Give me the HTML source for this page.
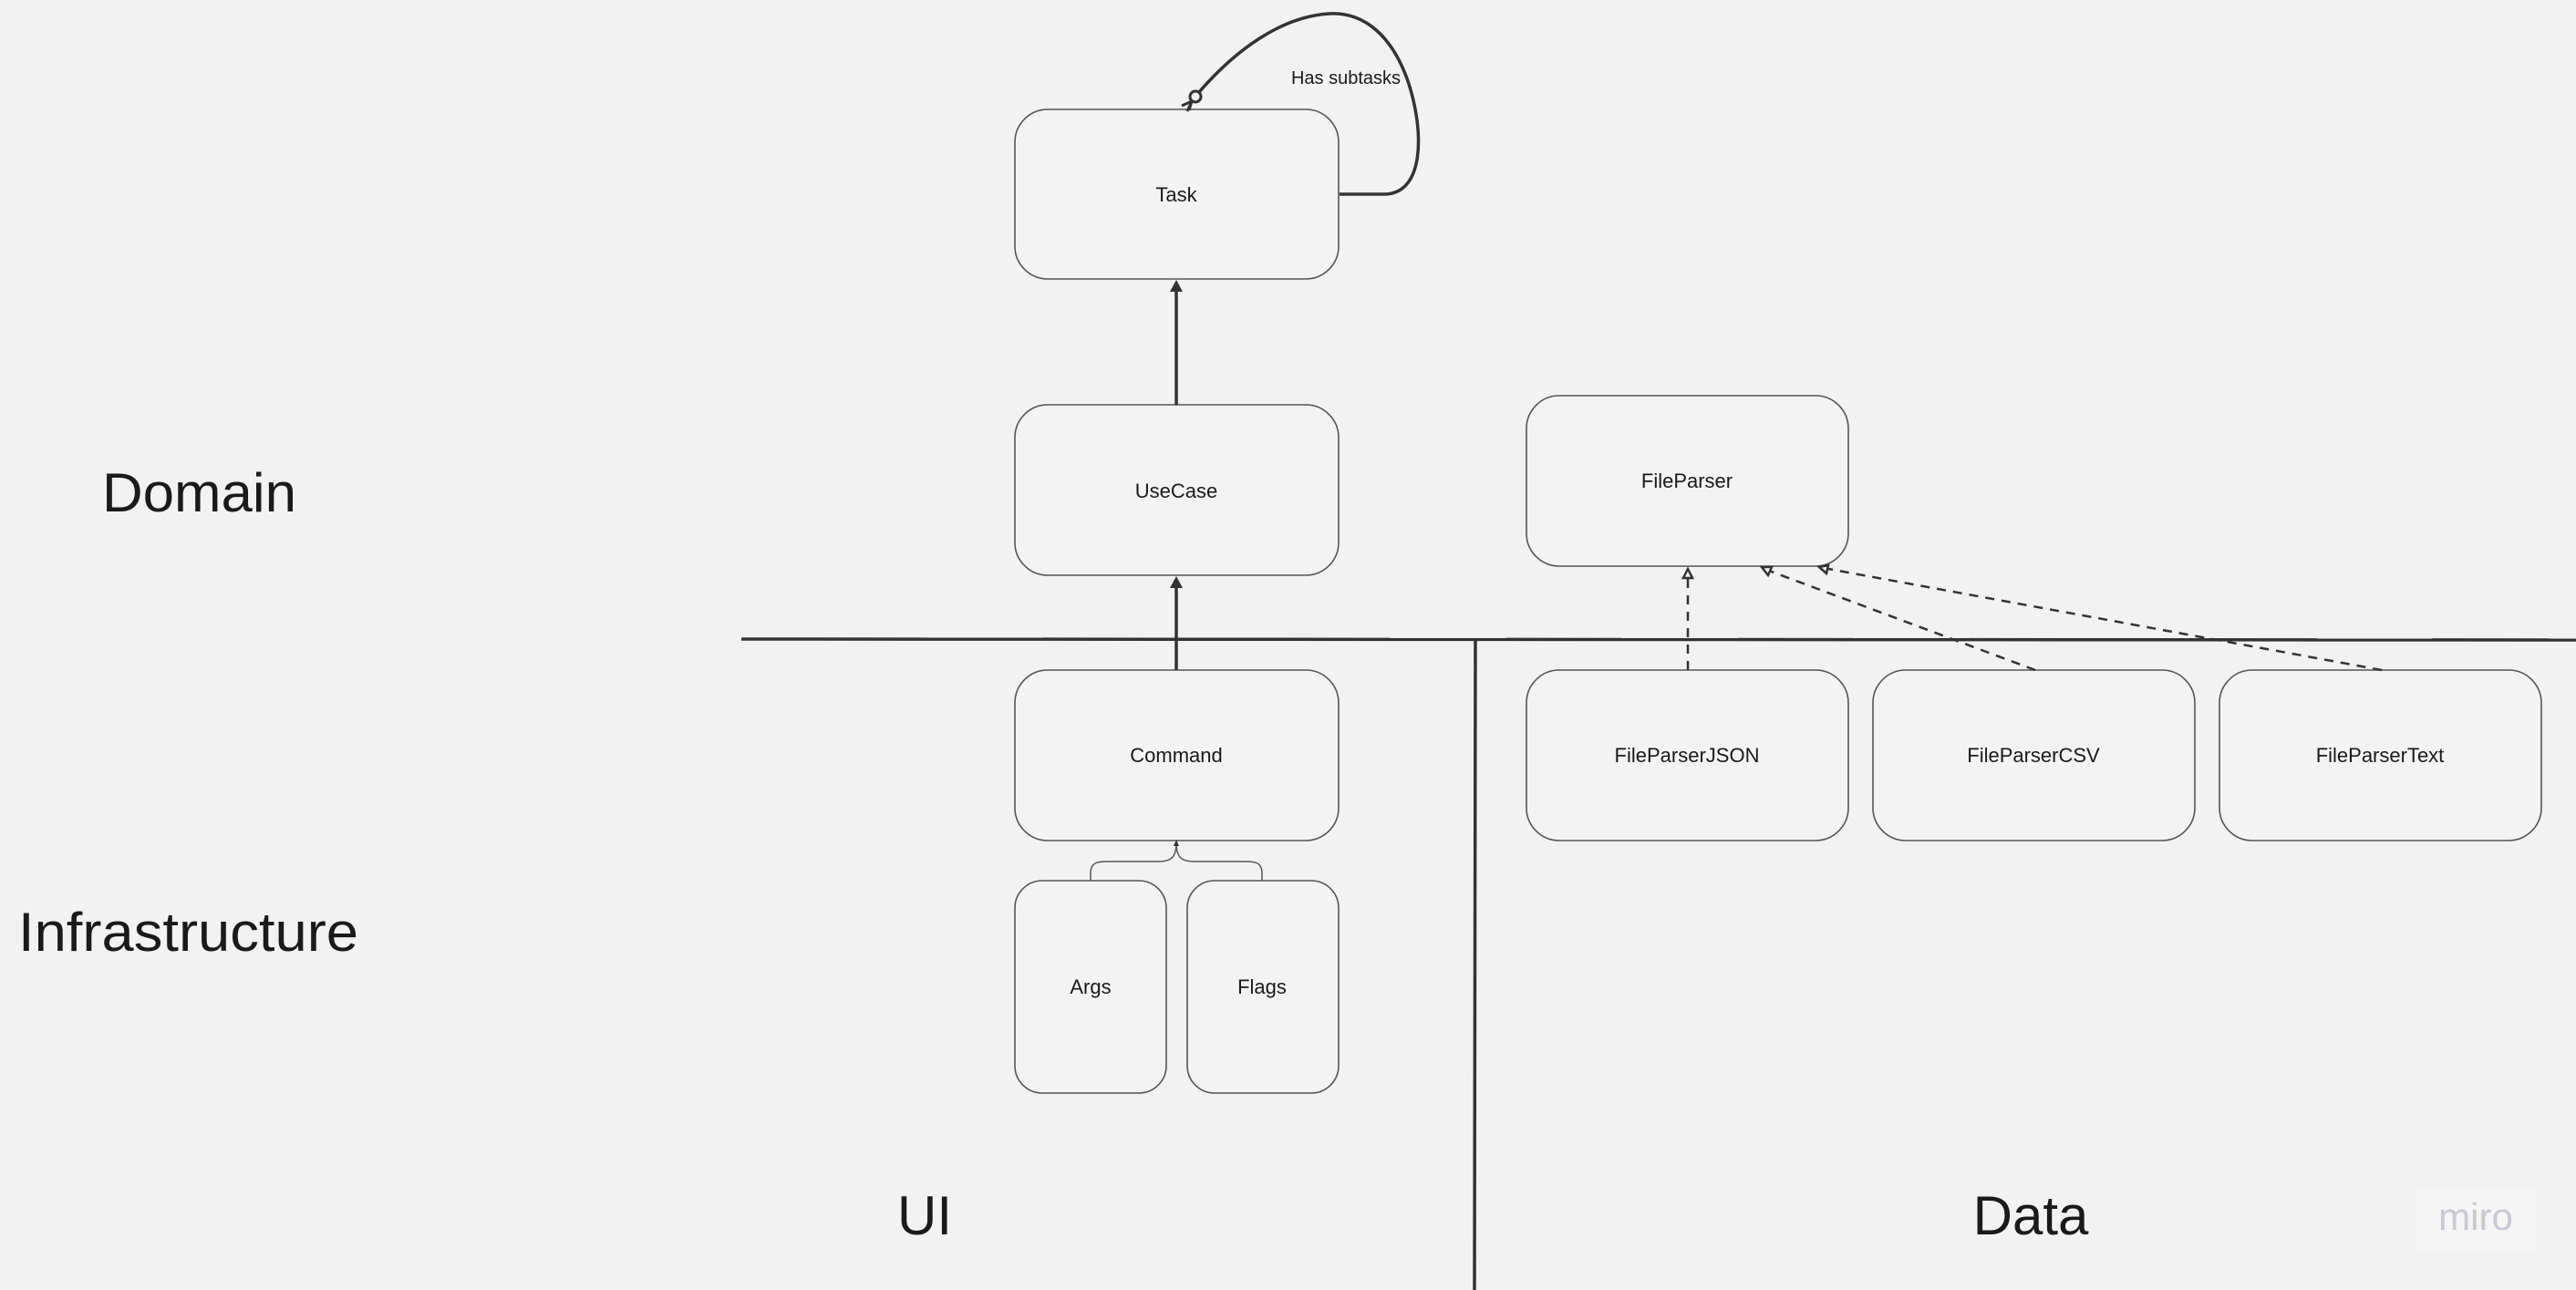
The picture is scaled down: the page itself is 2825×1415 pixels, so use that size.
<!DOCTYPE html>
<html><head><meta charset="utf-8"><style>
html,body{margin:0;padding:0;background:#f2f2f2}
svg{display:block}
text{font-family:"Liberation Sans",sans-serif;fill:#1a1a1a}
</style></head><body>
<svg width="2825" height="1415" viewBox="0 0 2825 1415" xmlns="http://www.w3.org/2000/svg">
<rect width="2825" height="1415" fill="#f2f2f2"/>
<g fill="#f3f3f3" stroke="#555" stroke-width="1.6">
<rect x="1113" y="120" width="355" height="186" rx="36"/>
<rect x="1113" y="444" width="355" height="187" rx="36"/>
<rect x="1113" y="735" width="355" height="187" rx="36"/>
<rect x="1113" y="966" width="166" height="233" rx="30"/>
<rect x="1302" y="966" width="166" height="233" rx="30"/>
<rect x="1674" y="434" width="353" height="187" rx="36"/>
<rect x="1674" y="735" width="353" height="187" rx="36"/>
<rect x="2054" y="735" width="353" height="187" rx="36"/>
<rect x="2434" y="735" width="353" height="187" rx="36"/>
</g>
<line x1="813" y1="701" x2="2825" y2="702" stroke="#333" stroke-width="3.5"/>
<line x1="1618" y1="702" x2="1617" y2="1415" stroke="#333" stroke-width="3.5"/>
<g stroke="#333" stroke-width="3.5" fill="none">
<line x1="1290" y1="444" x2="1290" y2="312"/>
<line x1="1290" y1="735" x2="1290" y2="637"/>
</g>
<g fill="#333">
<polygon points="1290,307 1283,320 1297,320"/>
<polygon points="1290,632 1283,645 1297,645"/>
</g>
<path d="M1469 213 L1518 213 C1562 213 1562 145 1545 92 C1527 38 1495 13 1458 15 C1405 18 1355 55 1315 101" stroke="#333" stroke-width="3.5" fill="none"/>
<circle cx="1311" cy="106" r="6" fill="#f2f2f2" stroke="#333" stroke-width="3"/>
<g stroke="#333" stroke-width="3" fill="none">
<line x1="1307" y1="111" x2="1302" y2="122"/>
<line x1="1307" y1="111" x2="1296" y2="116"/>
<line x1="1307" y1="111" x2="1304" y2="121"/>
</g>
<text x="1476" y="92" font-size="20" text-anchor="middle">Has subtasks</text>
<g stroke="#555" stroke-width="1.5" fill="none">
<path d="M1196 966 L1196 958 C1196 945 1205 945 1215 945 L1270 945 C1285 945 1290 940 1290 924"/>
<path d="M1384 966 L1384 958 C1384 945 1375 945 1365 945 L1310 945 C1295 945 1290 940 1290 924"/>
</g>
<polygon points="1290,921 1287,928 1293,928" fill="#333"/>
<g stroke="#333" stroke-width="2.5" fill="none" stroke-dasharray="10,8">
<line x1="1851" y1="735" x2="1851" y2="632"/>
<line x1="2232" y1="735" x2="1940" y2="626"/>
<line x1="2612" y1="735" x2="2005" y2="624"/>
</g>
<g fill="#f2f2f2" stroke="#333" stroke-width="2.5">
<polygon points="1851,624 1846,634 1856,634"/>
<polygon points="1932,622 1939,631 1943,622"/>
<polygon points="1995,622 2003,629 2005,620"/>
</g>
<g font-size="22" text-anchor="middle">
<text x="1290" y="221">Task</text>
<text x="1290" y="546">UseCase</text>
<text x="1290" y="836">Command</text>
<text x="1196" y="1090">Args</text>
<text x="1384" y="1090">Flags</text>
<text x="1850" y="535">FileParser</text>
<text x="1850" y="836">FileParserJSON</text>
<text x="2230" y="836">FileParserCSV</text>
<text x="2610" y="836">FileParserText</text>
</g>
<g font-size="60">
<text x="112" y="561" textLength="213" lengthAdjust="spacingAndGlyphs">Domain</text>
<text x="20" y="1043" textLength="373" lengthAdjust="spacingAndGlyphs">Infrastructure</text>
<text x="1014" y="1354" text-anchor="middle">UI</text>
<text x="2227" y="1354" text-anchor="middle">Data</text>
</g>
<rect x="2650" y="1302" width="132" height="70" fill="#f5f5f5"/>
<text x="2715" y="1349" font-size="42" text-anchor="middle" style="fill:#c9c9d3">miro</text>
</svg>
</body></html>
